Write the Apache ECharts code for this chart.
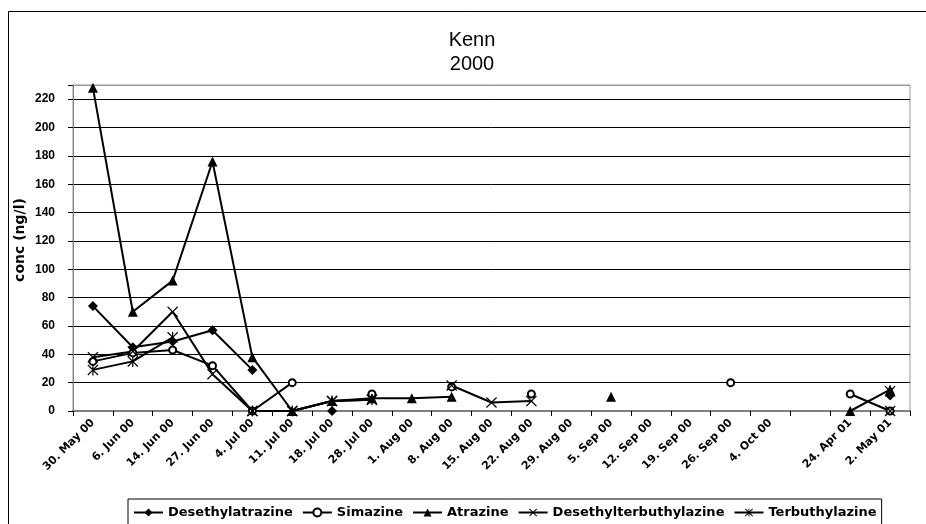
<!DOCTYPE html>
<html>
<head>
<meta charset="utf-8">
<script src="https://cdn.jsdelivr.net/npm/echarts@6/dist/echarts.min.js"></script>
<style>
html,body{margin:0;padding:0;background:#fff;}
#chart{width:926px;height:524px;}
</style>
</head>
<body>
<div id="chart"></div>
<script>
var categories = ['30. May 00','6. Jun 00','14. Jun 00','27. Jun 00','4. Jul 00','11. Jul 00','18. Jul 00','28. Jul 00','1. Aug 00','8. Aug 00','15. Aug 00','22. Aug 00','29. Aug 00','5. Sep 00','12. Sep 00','19. Sep 00','26. Sep 00','4. Oct 00','','24. Apr 01','2. May 01'];
var desethylatrazine = [74,45,49,57,29,null,0,null,null,null,null,null,null,null,null,null,null,null,null,null,11];
var simazine = [35,41,43,32,0,20,null,12,null,17,null,12,null,null,null,null,20,null,null,12,0];
var atrazine = [228,70,92,176,38,0,7,9,9,10,null,null,null,10,null,null,null,null,null,0,15];
var desethylterbuthylazine = [38,42,70,26,0,0,7,8,null,18,6,7,null,null,null,null,null,null,null,null,0];
var terbuthylazine = [29,35,52,null,0,0,7,8,null,null,null,null,null,null,null,null,null,null,null,null,14];
var seriesNames = ['Desethylatrazine','Simazine','Atrazine','Desethylterbuthylazine','Terbuthylazine'];
var yTicks = {min:0, max:230, interval:20};

var X_PATH = 'path://M0,0.8L0.8,0L5,4.2L9.2,0L10,0.8L5.8,5L10,9.2L9.2,10L5,5.8L0.8,10L0,9.2L4.2,5Z';
var AST_PATH = 'path://M0,0.8L0.8,0L5,4.2L9.2,0L10,0.8L5.8,5L10,9.2L9.2,10L5,5.8L0.8,10L0,9.2L4.2,5Z M4.45,0L5.55,0L5.55,10L4.45,10Z';

function mkSeries(name, data, symbol, size, empty){
  return {
    name: name, type: 'line', data: data,
    symbol: symbol, symbolSize: size, showSymbol: true, showAllSymbol: true,
    connectNulls: false,
    lineStyle: {color:'#000', width:2},
    itemStyle: empty ? {color:'#000', borderColor:'#000', borderWidth:1} : {color:'#000', borderWidth:0},
    emphasis: {disabled:true}
  };
}

var splitColors = [];
for (var i = 0; i < 12; i++) splitColors.push('#000');
splitColors.push('#999');

var chart = echarts.init(document.getElementById('chart'), null, {renderer:'canvas'});
chart.setOption({
  animation: false,
  backgroundColor: '#fff',
  title: {
    text: 'Kenn\n2000', left: 472, top: 28, textAlign: 'center', padding: 0,
    textStyle: {fontFamily:'Liberation Sans', fontSize:20, fontWeight:'normal', lineHeight:24, color:'#000'}
  },
  graphic: [
    {type:'rect', shape:{x:8.5, y:11.5, width:1000, height:1000}, style:{fill:null, stroke:'#000', lineWidth:1}, z:-1},
    {type:'text', x:20, y:240, rotation:Math.PI/2,
     style:{text:'conc (ng/l)', font:'bold 14px "DejaVu Sans"', fill:'#000', textAlign:'center', textVerticalAlign:'middle'}}
  ],
  legend: {
    data: seriesNames, left: 128, top: 499, orient: 'horizontal',
    borderColor: '#000', borderWidth: 1, padding: [7,5,7,5], itemGap: 9,
    itemWidth: 29, itemHeight: 10,
    textStyle: {fontFamily:'DejaVu Sans', fontSize:13, fontWeight:'bold', color:'#000'}
  },
  grid: {left:73, right:16, top:85, bottom:113, show:true, borderColor:'#999', borderWidth:1, backgroundColor:'#fff'},
  xAxis: {
    type: 'category', data: categories, boundaryGap: true,
    axisLine: {lineStyle:{color:'#808080', width:2}},
    axisTick: {show:true, alignWithLabel:false, interval:0, length:5, lineStyle:{color:'#000'}},
    axisLabel: {interval:0, rotate:45, margin:10, fontFamily:'DejaVu Sans', fontSize:11, fontWeight:'bold', color:'#000'},
    splitLine: {show:false}
  },
  yAxis: {
    type: 'value', min: yTicks.min, max: yTicks.max, interval: yTicks.interval,
    axisLine: {show:true, lineStyle:{color:'#808080', width:1}},
    axisTick: {show:true, length:5, lineStyle:{color:'#000'}},
    axisLabel: {margin:18, fontFamily:'Liberation Sans', fontSize:12, fontWeight:'bold', color:'#000',
      formatter: function(v){ return v > 220 ? '' : String(v); }},
    splitLine: {show:true, lineStyle:{color:splitColors, width:1}}
  },
  series: [
    mkSeries(seriesNames[0], desethylatrazine, 'diamond', 10, false),
    mkSeries(seriesNames[1], simazine, 'emptyCircle', 7, true),
    mkSeries(seriesNames[2], atrazine, 'triangle', 10, false),
    mkSeries(seriesNames[3], desethylterbuthylazine, X_PATH, 11, false),
    mkSeries(seriesNames[4], terbuthylazine, AST_PATH, 11, false)
  ]
});
</script>
</body>
</html>
